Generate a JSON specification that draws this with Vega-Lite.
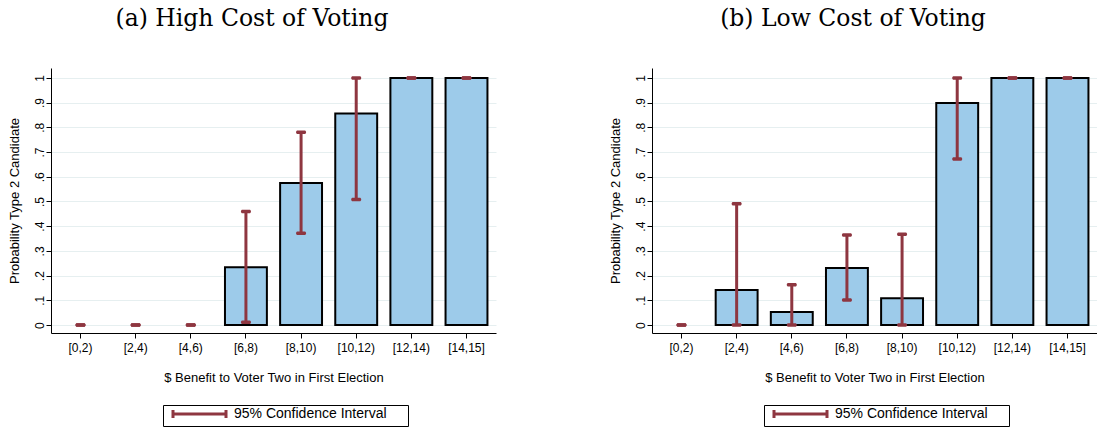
{
  "$schema": "https://vega.github.io/schema/vega-lite/v6.json",
  "padding": {"left": 7, "top": 6, "right": 0, "bottom": 0},
  "background": "white",
  "spacing": 112,
  "config": {
    "view": {"stroke": null},
    "font": "Liberation Sans",
    "title": {"font": "DejaVu Serif", "fontSize": 23.5, "fontWeight": "normal", "color": "black", "anchor": "middle", "frame": "bounds", "offset": 38},
    "axis": {"domainColor": "black", "tickColor": "black", "labelColor": "black", "titleColor": "black", "labelFont": "Liberation Sans", "titleFont": "Liberation Sans", "titleFontWeight": "normal", "labelFontSize": 12, "titleFontSize": 13, "tickSize": 5, "labelOverlap": false},
    "axisY": {"title": "Probability Type 2 Candidate", "values": [0, 0.1, 0.2, 0.3, 0.4, 0.5, 0.6, 0.7, 0.8, 0.9, 1], "tickCount": 11, "labelExpr": "datum.value == 0 ? '0' : datum.value == 1 ? '1' : replace(format(datum.value, '.1f'), '0.', '.')", "labelAngle": 270, "labelOverlap": false, "labelPadding": 0, "titlePadding": 12, "grid": true, "gridColor": "#e6eff0", "gridWidth": 1},
    "legend": {"orient": "none", "legendX": 112, "legendY": 337, "direction": "horizontal", "strokeColor": "black", "padding": 2, "cornerRadius": 0, "labelFont": "Liberation Sans", "labelFontSize": 14, "labelColor": "black", "labelLimit": 400, "symbolType": "M-1,0L25.5,0M-1,-2L-1,2M25.5,-2L25.5,2", "symbolSize": 16, "symbolStrokeWidth": 3, "symbolOffset": 3, "labelOffset": 52, "title": null}
  },
  "resolve": {"scale": {"color": "independent", "y": "independent", "x": "independent"}, "legend": {"color": "independent"}},
  "hconcat": [
    {
      "title": "(a) High Cost of Voting",
      "width": 445,
      "height": 265,
      "data": {"values": [
        {"bin": "[0,2)", "mean": null, "lo": 0, "hi": 0},
        {"bin": "[2,4)", "mean": null, "lo": 0, "hi": 0},
        {"bin": "[4,6)", "mean": null, "lo": 0, "hi": 0},
        {"bin": "[6,8)", "mean": 0.234, "lo": 0.011, "hi": 0.46},
        {"bin": "[8,10)", "mean": 0.575, "lo": 0.372, "hi": 0.78},
        {"bin": "[10,12)", "mean": 0.856, "lo": 0.508, "hi": 1.0},
        {"bin": "[12,14)", "mean": 1.0, "lo": 1.0, "hi": 1.0},
        {"bin": "[14,15]", "mean": 1.0, "lo": 1.0, "hi": 1.0}
      ]},
      "encoding": {
        "x": {"field": "bin", "type": "nominal", "sort": null,
          "scale": {"domain": ["[0,2)", "[2,4)", "[4,6)", "[6,8)", "[8,10)", "[10,12)", "[12,14)", "[14,15]"], "paddingInner": 0.24, "paddingOuter": 0.155},
          "axis": {"title": "$ Benefit to Voter Two in First Election", "labelAngle": 0, "labelPadding": 4, "titlePadding": 18, "grid": false}}
      },
      "layer": [
        {"mark": {"type": "bar", "fill": "#9dcbea", "stroke": "black", "strokeWidth": 2},
         "encoding": {"y": {"field": "mean", "type": "quantitative", "title": "Probability Type 2 Candidate",
           "scale": {"domain": [-0.032, 1.04], "nice": false, "zero": false}}}},
        {"mark": {"type": "rule", "strokeWidth": 3},
         "encoding": {"y": {"field": "lo", "type": "quantitative", "title": "Probability Type 2 Candidate"}, "y2": {"field": "hi"},
           "color": {"datum": "95% Confidence Interval", "type": "nominal", "scale": {"domain": ["95% Confidence Interval"], "range": ["#8e3640"]}, "legend": {"labelExpr": "datum.label + '\u00a0\u00a0\u00a0\u00a0\u00a0\u200b'"}}}},
        {"mark": {"type": "tick", "color": "#8e3640", "thickness": 3.5, "size": 10, "cornerRadius": 1.5, "opacity": 1},
         "encoding": {"y": {"field": "lo", "type": "quantitative", "title": "Probability Type 2 Candidate"}}},
        {"mark": {"type": "tick", "color": "#8e3640", "thickness": 3.5, "size": 10, "cornerRadius": 1.5, "opacity": 1},
         "encoding": {"y": {"field": "hi", "type": "quantitative", "title": "Probability Type 2 Candidate"}}}
      ]
    },
    {
      "title": "(b) Low Cost of Voting",
      "width": 445,
      "height": 265,
      "data": {"values": [
        {"bin": "[0,2)", "mean": null, "lo": 0, "hi": 0},
        {"bin": "[2,4)", "mean": 0.142, "lo": 0, "hi": 0.491},
        {"bin": "[4,6)", "mean": 0.053, "lo": 0, "hi": 0.163},
        {"bin": "[6,8)", "mean": 0.231, "lo": 0.101, "hi": 0.364},
        {"bin": "[8,10)", "mean": 0.109, "lo": 0, "hi": 0.367},
        {"bin": "[10,12)", "mean": 0.898, "lo": 0.672, "hi": 1.0},
        {"bin": "[12,14)", "mean": 1.0, "lo": 1.0, "hi": 1.0},
        {"bin": "[14,15]", "mean": 1.0, "lo": 1.0, "hi": 1.0}
      ]},
      "encoding": {
        "x": {"field": "bin", "type": "nominal", "sort": null,
          "scale": {"domain": ["[0,2)", "[2,4)", "[4,6)", "[6,8)", "[8,10)", "[10,12)", "[12,14)", "[14,15]"], "paddingInner": 0.24, "paddingOuter": 0.155},
          "axis": {"title": "$ Benefit to Voter Two in First Election", "labelAngle": 0, "labelPadding": 4, "titlePadding": 18, "grid": false}}
      },
      "layer": [
        {"mark": {"type": "bar", "fill": "#9dcbea", "stroke": "black", "strokeWidth": 2},
         "encoding": {"y": {"field": "mean", "type": "quantitative", "title": "Probability Type 2 Candidate",
           "scale": {"domain": [-0.032, 1.04], "nice": false, "zero": false}}}},
        {"mark": {"type": "rule", "strokeWidth": 3},
         "encoding": {"y": {"field": "lo", "type": "quantitative", "title": "Probability Type 2 Candidate"}, "y2": {"field": "hi"},
           "color": {"datum": "95% Confidence Interval", "type": "nominal", "scale": {"domain": ["95% Confidence Interval"], "range": ["#8e3640"]}, "legend": {"labelExpr": "datum.label + '\u00a0\u00a0\u00a0\u00a0\u00a0\u200b'"}}}},
        {"mark": {"type": "tick", "color": "#8e3640", "thickness": 3.5, "size": 10, "cornerRadius": 1.5, "opacity": 1},
         "encoding": {"y": {"field": "lo", "type": "quantitative", "title": "Probability Type 2 Candidate"}}},
        {"mark": {"type": "tick", "color": "#8e3640", "thickness": 3.5, "size": 10, "cornerRadius": 1.5, "opacity": 1},
         "encoding": {"y": {"field": "hi", "type": "quantitative", "title": "Probability Type 2 Candidate"}}}
      ]
    }
  ]
}
